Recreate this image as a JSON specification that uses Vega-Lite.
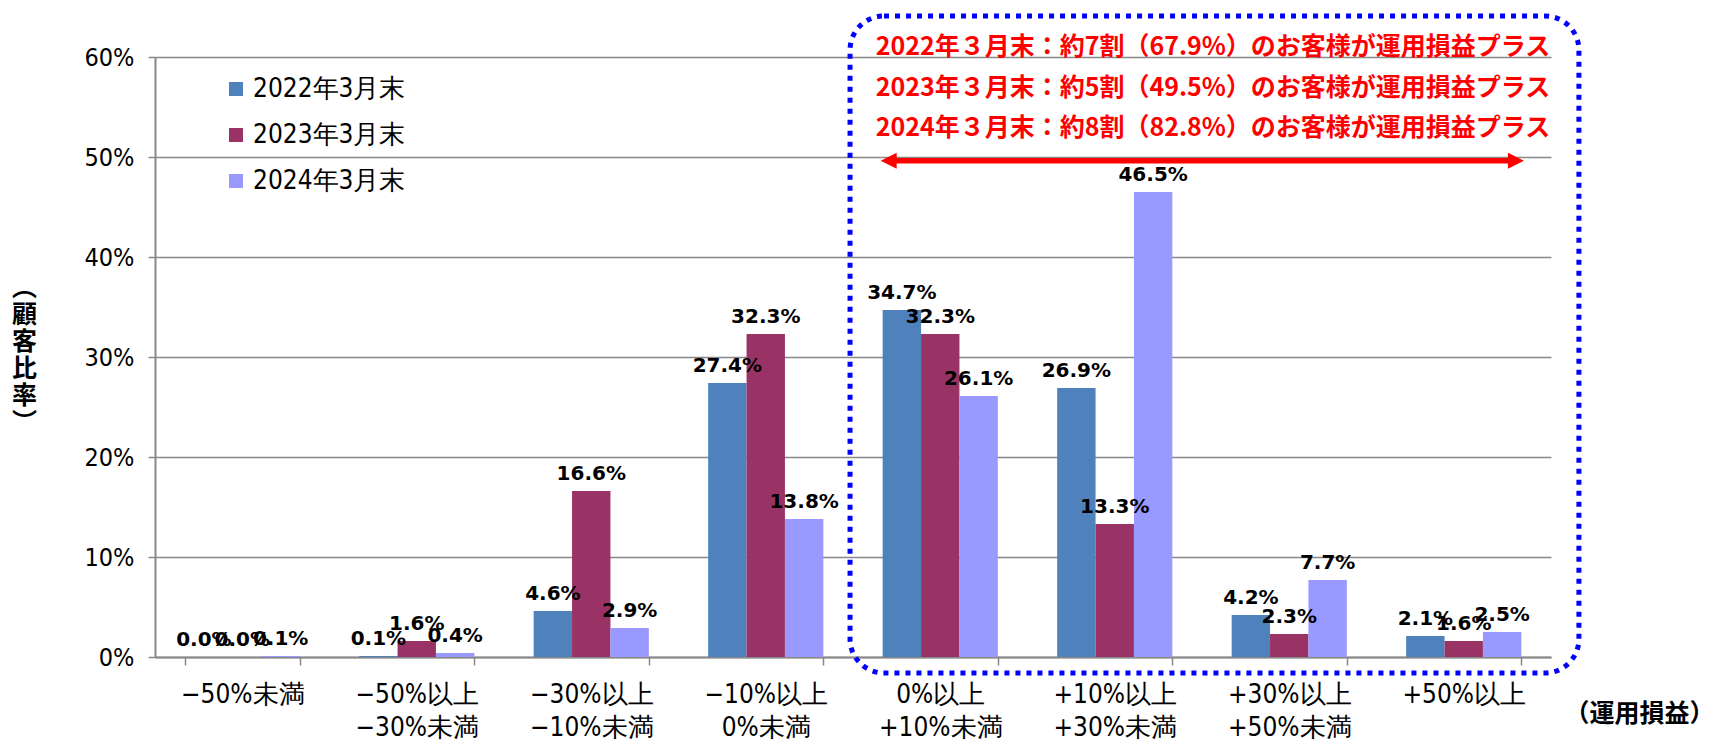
{
  "$schema": "https://vega.github.io/schema/vega-lite/v6.json",
  "width": 1396,
  "height": 600,
  "autosize": "none",
  "padding": {"left": 155, "top": 57, "right": 174, "bottom": 85},
  "background": "#ffffff",
  "config": {
    "view": {"stroke": null},
    "font": "Liberation Sans Narrow, DejaVu Sans Condensed, Liberation Sans, sans-serif"
  },
  "layer": [
    {
      "data": {
        "values": [
          {"range": "−50%未満", "year": "2022年3月末", "ratio": 0.000},
          {"range": "−50%未満", "year": "2023年3月末", "ratio": 0.000},
          {"range": "−50%未満", "year": "2024年3月末", "ratio": 0.001},
          {"range": "−50%以上\n−30%未満", "year": "2022年3月末", "ratio": 0.001},
          {"range": "−50%以上\n−30%未満", "year": "2023年3月末", "ratio": 0.016},
          {"range": "−50%以上\n−30%未満", "year": "2024年3月末", "ratio": 0.004},
          {"range": "−30%以上\n−10%未満", "year": "2022年3月末", "ratio": 0.046},
          {"range": "−30%以上\n−10%未満", "year": "2023年3月末", "ratio": 0.166},
          {"range": "−30%以上\n−10%未満", "year": "2024年3月末", "ratio": 0.029},
          {"range": "−10%以上\n0%未満", "year": "2022年3月末", "ratio": 0.274},
          {"range": "−10%以上\n0%未満", "year": "2023年3月末", "ratio": 0.323},
          {"range": "−10%以上\n0%未満", "year": "2024年3月末", "ratio": 0.138},
          {"range": "0%以上\n+10%未満", "year": "2022年3月末", "ratio": 0.347},
          {"range": "0%以上\n+10%未満", "year": "2023年3月末", "ratio": 0.323},
          {"range": "0%以上\n+10%未満", "year": "2024年3月末", "ratio": 0.261},
          {"range": "+10%以上\n+30%未満", "year": "2022年3月末", "ratio": 0.269},
          {"range": "+10%以上\n+30%未満", "year": "2023年3月末", "ratio": 0.133},
          {"range": "+10%以上\n+30%未満", "year": "2024年3月末", "ratio": 0.465},
          {"range": "+30%以上\n+50%未満", "year": "2022年3月末", "ratio": 0.042},
          {"range": "+30%以上\n+50%未満", "year": "2023年3月末", "ratio": 0.023},
          {"range": "+30%以上\n+50%未満", "year": "2024年3月末", "ratio": 0.077},
          {"range": "+50%以上", "year": "2022年3月末", "ratio": 0.021},
          {"range": "+50%以上", "year": "2023年3月末", "ratio": 0.016},
          {"range": "+50%以上", "year": "2024年3月末", "ratio": 0.025}
        ]
      },
      "encoding": {
        "x": {
          "field": "range",
          "type": "nominal",
          "sort": null,
          "scale": {"paddingInner": 0.34, "paddingOuter": 0.17},
          "axis": {
            "labelAngle": 0,
            "labelExpr": "split(datum.label, '\\n')",
            "labelFontSize": 26,
            "labelLineHeight": 33,
            "labelColor": "#000000",
            "labelPadding": 16,
            "labelBaseline": "top",
            "tickSize": 8,
            "tickBand": "extent",
            "tickColor": "#888888",
            "tickWidth": 1.5,
            "domainColor": "#888888",
            "domainWidth": 2,
            "grid": false,
            "title": "（運用損益）",
            "titleFont": "Noto Sans CJK JP",
            "titleFontSize": 25,
            "titleFontWeight": "bold",
            "titleColor": "#000000",
            "titleX": 1484,
            "titleY": 56,
            "titleAlign": "center",
            "titleBaseline": "middle",
            "titleAnchor": null
          }
        },
        "xOffset": {"field": "year", "type": "nominal", "sort": null, "scale": {"paddingInner": 0, "paddingOuter": 0}},
        "y": {
          "field": "ratio",
          "type": "quantitative",
          "scale": {"domain": [0, 0.6], "nice": false, "zero": true},
          "axis": {
            "values": [0, 0.1, 0.2, 0.3, 0.4, 0.5, 0.6],
            "format": ".0%",
            "labelFontSize": 25,
            "labelColor": "#000000",
            "labelPadding": 14,
            "tickSize": 7,
            "tickColor": "#888888",
            "tickWidth": 1.5,
            "domainColor": "#888888",
            "domainWidth": 2,
            "grid": true,
            "gridColor": "#888888",
            "gridWidth": 1.5,
            "title": ["︵", "顧", "客", "比", "率", "︶"],
            "titleFont": "Noto Sans CJK JP",
            "titleFontSize": 25,
            "titleFontWeight": "bold",
            "titleColor": "#000000",
            "titleAngle": 0,
            "titleLineHeight": 27,
            "titleX": -131,
            "titleY": 230,
            "titleAlign": "center",
            "titleBaseline": "middle"
          }
        }
      },
      "layer": [
        {
          "mark": {"type": "bar"},
          "encoding": {
            "color": {
              "field": "year",
              "type": "nominal",
              "sort": null,
              "scale": {"range": ["#4F81BD", "#993366", "#9999FF"]},
              "legend": {
                "orient": "none",
                "legendX": 68,
                "legendY": 19,
                "title": null,
                "symbolType": "square",
                "symbolSize": 196,
                "symbolStrokeWidth": 0,
                "labelFontSize": 26,
                "labelColor": "#000000",
                "labelOffset": 4,
                "rowPadding": 20
              }
            }
          }
        },
        {
          "mark": {"type": "text", "baseline": "bottom", "dy": -7, "font": "DejaVu Sans", "fontWeight": "bold", "fontSize": 20, "color": "#000000"},
          "encoding": {
            "text": {"field": "ratio", "type": "quantitative", "format": ".1%"}
          }
        }
      ]
    },
    {
      "data": {"values": [{}]},
      "layer": [
        {
          "mark": {"type": "rect", "filled": false, "stroke": "#0000FF", "strokeWidth": 5, "strokeDash": [5, 6], "strokeCap": "butt", "cornerRadius": 34},
          "encoding": {
            "x": {"datum": 3.983, "type": "quantitative", "scale": {"domain": [0, 8], "nice": false}, "axis": null},
            "x2": {"datum": 8.16},
            "y": {"datum": 0.641, "type": "quantitative"},
            "y2": {"datum": -0.016}
          }
        },
        {
          "mark": {"type": "rule", "stroke": "#FF0000", "strokeWidth": 5.5},
          "encoding": {
            "x": {"datum": 4.2, "type": "quantitative", "scale": {"domain": [0, 8], "nice": false}, "axis": null},
            "x2": {"datum": 7.8},
            "y": {"datum": 0.4963, "type": "quantitative"}
          }
        },
        {
          "mark": {"type": "point", "shape": "M-1,0L1,-1L1,1Z", "size": 256, "filled": true, "color": "#FF0000", "opacity": 1, "strokeWidth": 0},
          "encoding": {
            "x": {"datum": 4.2046, "type": "quantitative", "scale": {"domain": [0, 8], "nice": false}, "axis": null},
            "y": {"datum": 0.4963, "type": "quantitative"}
          }
        },
        {
          "mark": {"type": "point", "shape": "M1,0L-1,-1L-1,1Z", "size": 256, "filled": true, "color": "#FF0000", "opacity": 1, "strokeWidth": 0},
          "encoding": {
            "x": {"datum": 7.799, "type": "quantitative", "scale": {"domain": [0, 8], "nice": false}, "axis": null},
            "y": {"datum": 0.4963, "type": "quantitative"}
          }
        },
        {
          "mark": {
            "type": "text",
            "text": ["2022年３月末：約7割（67.9%）のお客様が運用損益プラス", "2023年３月末：約5割（49.5%）のお客様が運用損益プラス", "2024年３月末：約8割（82.8%）のお客様が運用損益プラス"],
            "font": "Noto Sans CJK JP",
            "fontWeight": "bold",
            "fontSize": 25,
            "lineHeight": 40.5,
            "color": "#FF0000",
            "align": "center",
            "baseline": "middle"
          },
          "encoding": {
            "x": {"datum": 6.063, "type": "quantitative", "scale": {"domain": [0, 8], "nice": false}, "axis": null},
            "y": {"datum": 0.6097, "type": "quantitative"}
          }
        }
      ]
    }
  ],
  "resolve": {"scale": {"x": "independent"}}
}
